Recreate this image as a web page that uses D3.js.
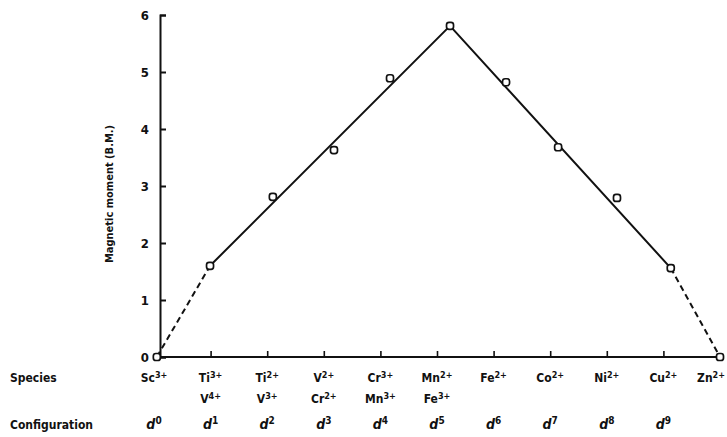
<!DOCTYPE html>
<html>
<head>
<meta charset="utf-8">
<script src="https://cdn.jsdelivr.net/npm/d3@7"></script>
<style>
  html, body { margin: 0; padding: 0; background: #fff; }
  svg { display: block; }
  text { font-family: "Liberation Sans Narrow", "DejaVu Sans Condensed", sans-serif; fill: #111; }
</style>
</head>
<body>
<svg id="chart" width="727" height="437"></svg>
<script>
// Spin-only style magnetic moments across the first-row d^n ions
const configs = [0, 1, 2, 3, 4, 5, 6, 7, 8, 9, 10];
const pointPos = [0.05, 0.99, 2.1, 3.18, 4.17, 5.23, 6.22, 7.14, 8.18, 9.13, 10.0];
const moments = [0, 1.6, 2.81, 3.63, 4.89, 5.81, 4.82, 3.68, 2.79, 1.56, 0];
const speciesTop = ["Sc", "Ti", "Ti", "V", "Cr", "Mn", "Fe", "Co", "Ni", "Cu", "Zn"];
const chargeTop = ["3+", "3+", "2+", "2+", "3+", "2+", "2+", "2+", "2+", "2+", "2+"];
const speciesBottom = ["", "V", "V", "Cr", "Mn", "Fe", "", "", "", "", ""];
const chargeBottom = ["", "4+", "3+", "2+", "3+", "3+", "", "", "", "", ""];
const configLabels = ["0", "1", "2", "3", "4", "5", "6", "7", "8", "9"];
const yTicks = [0, 1, 2, 3, 4, 5, 6];
// the fitted trend runs d1 -> d5 -> d9, dashed to the d0 and d10 ends
const solidIdx = [1, 5, 9];
const dashedRuns = [[0, 1], [9, 10]];

const width = 727;
const svg = d3.select("#chart");
const x = d3.scaleLinear().domain([0, 10]).range([154, 720]);
const y = d3.scaleLinear().domain([0, 6]).range([357, 15]);
const axisX = 160;

// y axis with inward ticks
const yAxis = d3.axisLeft(y).tickValues(yTicks).tickFormat(d3.format("d"))
  .tickSizeInner(-6).tickSizeOuter(-6).tickPadding(11);
const gy = svg.append("g").attr("transform", `translate(${axisX},0)`).call(yAxis);
gy.select(".domain").attr("stroke", "#111").attr("stroke-width", 2);
gy.selectAll(".tick line").attr("stroke", "#111").attr("stroke-width", 2);
gy.selectAll(".tick text").attr("font-size", 13).attr("font-weight", "bold")
  .style("font-family", "'Liberation Sans Narrow', 'DejaVu Sans Condensed', sans-serif").attr("fill", "#111");

// x axis baseline with upward ticks at each configuration
const xAxis = d3.axisBottom(x).tickValues(configs.slice(1, 10)).tickFormat("")
  .tickSizeInner(-6).tickSizeOuter(0);
const gx = svg.append("g").attr("transform", `translate(0,${y(0)})`).call(xAxis);
gx.select(".domain").remove();
gx.selectAll(".tick line").attr("stroke", "#111").attr("stroke-width", 1.6);
svg.append("line")
  .attr("x1", axisX).attr("x2", x(10) - 2)
  .attr("y1", y(0)).attr("y2", y(0))
  .attr("stroke", "#111").attr("stroke-width", 2);

// trend line
const line = d3.line().x(i => x(pointPos[i])).y(i => y(moments[i]));
svg.append("path").datum(solidIdx).attr("d", line)
  .attr("fill", "none").attr("stroke", "#111").attr("stroke-width", 2);
svg.selectAll("path.dash").data(dashedRuns).join("path").attr("class", "dash")
  .attr("d", line).attr("fill", "none").attr("stroke", "#111")
  .attr("stroke-width", 2).attr("stroke-dasharray", "6,4");

// measured points
svg.selectAll("rect.pt").data(configs).join("rect").attr("class", "pt")
  .attr("x", i => x(pointPos[i]) - 3.5).attr("y", i => y(moments[i]) - 3.5)
  .attr("width", 7).attr("height", 7).attr("rx", 2.5)
  .attr("fill", "#fff").attr("stroke", "#111").attr("stroke-width", 1.7);

// y axis title
svg.append("text")
  .attr("transform", `translate(113,${(y(0) + y(6)) / 2 + 8}) rotate(-90)`)
  .attr("text-anchor", "middle").attr("font-size", 11).attr("font-weight", "bold")
  .text("Magnetic moment (B.M.)");

// row headings
svg.append("text").attr("x", 10).attr("y", 382).attr("font-size", 12).attr("font-weight", "bold").text("Species");
svg.append("text").attr("x", 10).attr("y", 429).attr("font-size", 12).attr("font-weight", "bold").text("Configuration");

function ionLabel(sel, names, charges, yPos) {
  sel.selectAll(null).data(configs.filter(i => names[i] !== "")).join("text")
    .attr("font-size", 12).attr("font-weight", "bold")
    .each(function (i) {
      const t = d3.select(this);
      t.append("tspan").text(names[i]);
      t.append("tspan").attr("dy", -4).attr("font-size", 9).text(charges[i]);
      // keep the last label inside the right edge
      const w = this.getComputedTextLength();
      const left = Math.min(x(i) - w / 2, width - 2 - w);
      t.attr("x", left).attr("y", yPos);
    });
}
ionLabel(svg.append("g"), speciesTop, chargeTop, 382);
ionLabel(svg.append("g"), speciesBottom, chargeBottom, 403);

// d-electron configuration row
svg.append("g").selectAll("text").data(configLabels).join("text")
  .attr("x", (d, i) => x(i)).attr("y", 429)
  .attr("text-anchor", "middle").attr("font-size", 14).attr("font-weight", "bold")
  .each(function (d) {
    const t = d3.select(this);
    t.append("tspan").attr("font-style", "italic").text("d");
    t.append("tspan").attr("dy", -5).attr("font-size", 10).text(d);
  });
</script>
</body>
</html>
